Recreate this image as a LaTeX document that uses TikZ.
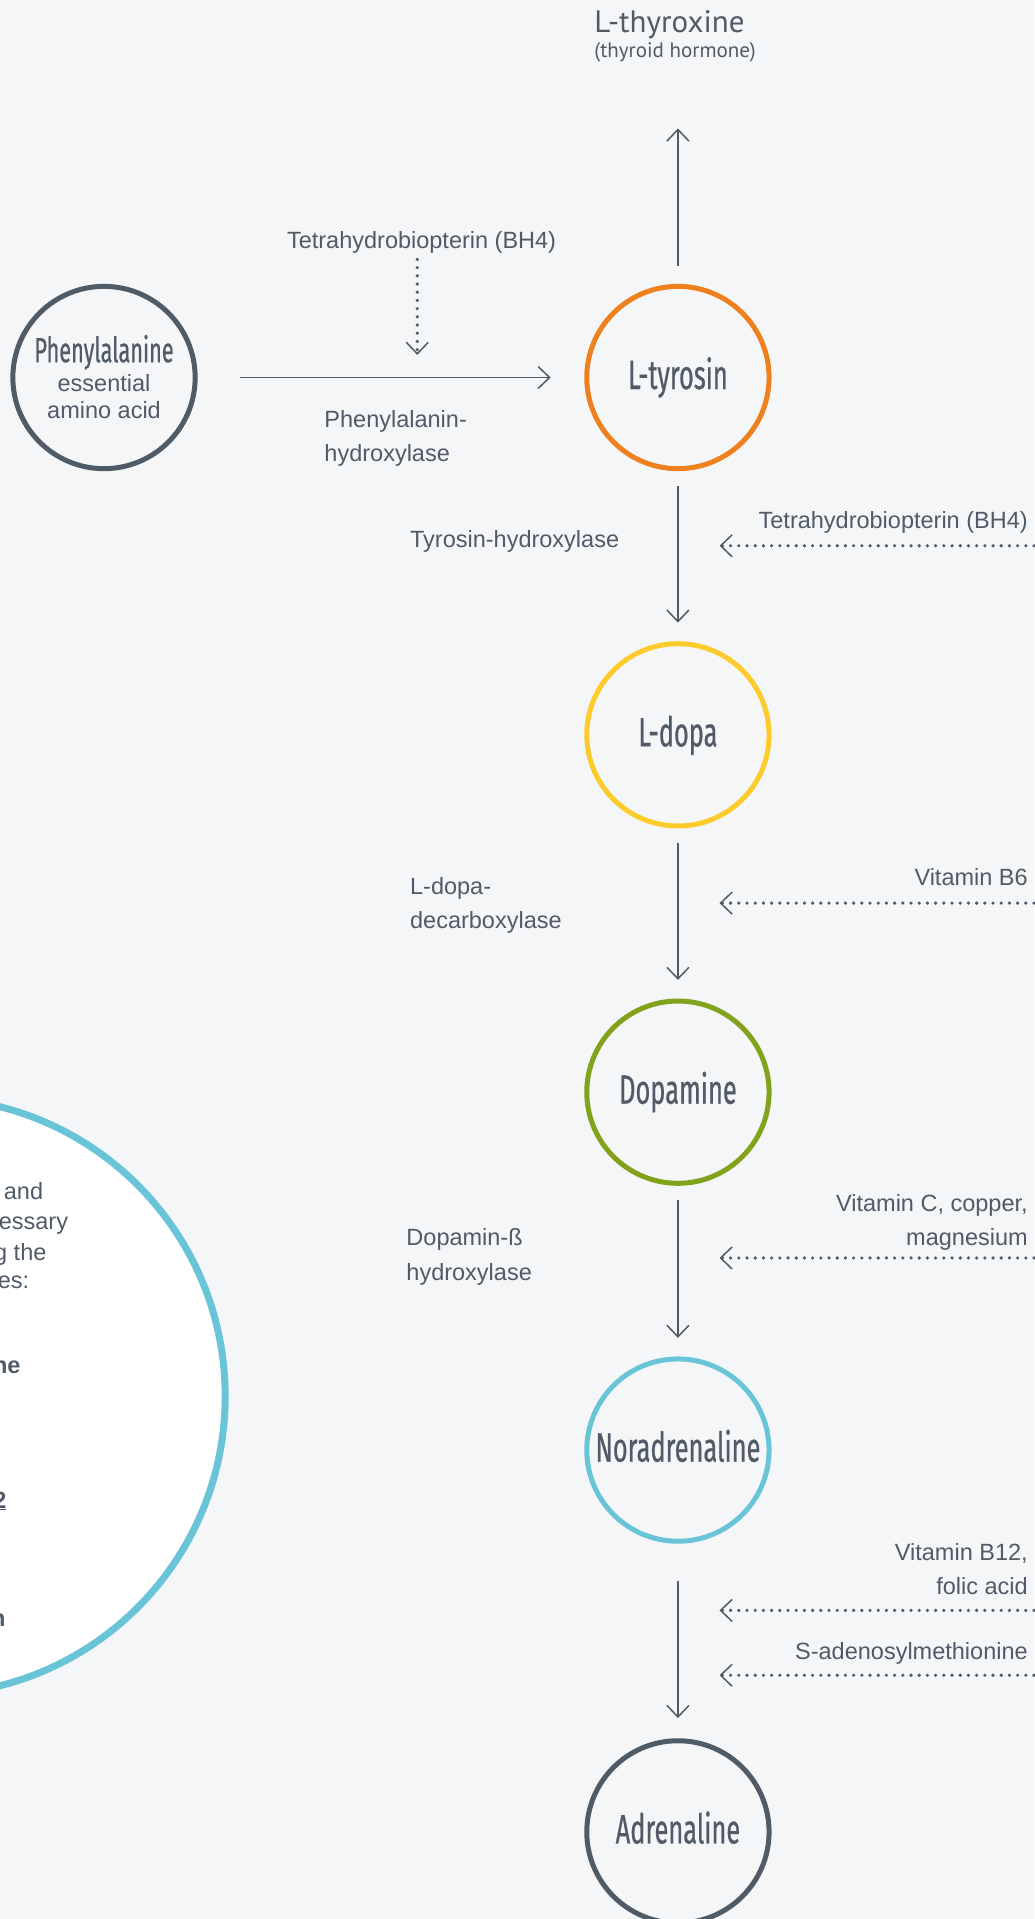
\documentclass[tikz,border=0pt]{standalone}
\usepackage{fontspec}
\setmainfont{Liberation Sans}
\newfontfamily\condfont[FakeStretch=0.62,FakeBold=0.5]{Fira Sans}
\newfontfamily\myriad{PT Sans}
\usetikzlibrary{arrows.meta}
\definecolor{bgc}{HTML}{F4F6F8}
\definecolor{ink}{HTML}{505B67}
\definecolor{corange}{HTML}{EE801E}
\definecolor{cyellow}{HTML}{FDCB2B}
\definecolor{cgreen}{HTML}{80A31B}
\definecolor{cblue}{HTML}{6AC4D8}
\definecolor{cslate}{HTML}{4F5B66}
\begin{document}
\begin{tikzpicture}[x=1.2237pt,y=-1.2237pt,
  mol/.style={circle, draw=#1, line width=5pt, minimum size=182.3pt, inner sep=0pt, outer sep=0pt,
    text=ink, font=\condfont\fontsize{41}{42}\selectfont, text height=28.5pt, text depth=5.4pt},
  lbl/.style={text=ink, inner sep=0pt, font=\fontsize{23.5}{34.3}\selectfont},
  arr/.style={draw=ink, line width=1.5pt, -{Straight Barb[length=11.5pt,width=22pt,line width=1.5pt]}},
  dotarr/.style={draw=ink, line width=3.6pt, line cap=round, dash pattern=on 0pt off 8.2pt,
    -{Straight Barb[length=11.5pt,width=22pt,line width=1.5pt]}},
]
\fill[bgc] (0,0) rectangle (845,1568.2);
\useasboundingbox (0,0) rectangle (845,1568.2);

% info circle (partly outside the page)
\node[circle, draw=cblue, fill=white, line width=7pt, minimum size=597.2pt, inner sep=0pt] (info) at (-60,1141) {};
\node[lbl, anchor=base east] (i1) at (35.4,980) {and};
\node[lbl, anchor=base east] (i2) at (55.8,1005) {essary};
\node[lbl, anchor=base east] (i3) at (38.1,1029.7) {g the};
\node[lbl, anchor=base east] (i4) at (24,1052.7) {es:};
\node[lbl, anchor=base east, font=\bfseries\fontsize{23.5}{30}\selectfont] (i5) at (16.9,1122) {ne};
\node[lbl, anchor=base east, font=\bfseries\fontsize{23.5}{30}\selectfont] (i6) at (5.4,1232.5) {\underline{2}};
\node[lbl, anchor=base east, font=\bfseries\fontsize{23.5}{30}\selectfont] (i7) at (4.6,1329) {n};

% molecules
\node[mol=cslate, text height=0pt, text depth=0pt] (phe) at (85,308.5) {};
\node[lbl, anchor=base, font=\condfont\fontsize{35}{36}\selectfont] (phet) at (85,296) {Phenylalanine};
\node[lbl, anchor=base] (phe2) at (85,320) {essential};
\node[lbl, anchor=base] (phe3) at (85,342) {amino acid};

\node[mol=corange] (tyr) at (554,308.5) {L-tyrosin};
\node[mol=cyellow] (dopa) at (554,600.5) {L-dopa};
\node[mol=cgreen] (dop) at (554,892.5) {Dopamine};
\node[mol=cblue] (nor) at (554,1185) {Noradrenaline};
\node[mol=cslate] (adr) at (554,1497) {Adrenaline};

% thyroxine
\node[lbl, anchor=base west, font=\myriad\fontsize{31}{33}\selectfont] (thy) at (485.6,26.4) {L-thyroxine};
\node[lbl, anchor=base west, font=\myriad\fontsize{21}{23}\selectfont] (thy2) at (485.6,47) {(thyroid hormone)};
\coordinate (thytip) at (554,105);
\draw[arr, shorten <=20.2pt] (tyr) -- (thytip);

% phenylalanine -> tyrosin
\draw[arr, shorten <=44.7pt, shorten >=36.1pt] (phe) -- (tyr);
\node[lbl, anchor=base] (bh4a) at (344.5,203) {Tetrahydrobiopterin (BH4)};
\coordinate (bh4as) at (341,212);
\coordinate (bh4ae) at (341,290);
\draw[dotarr] (bh4as) -- (bh4ae);
\node[lbl, anchor=base west, align=left] (pah) at (265,377) {Phenylalanin-\\hydroxylase};

% chain
\draw[arr, shorten <=17.15pt, shorten >=21.1pt] (tyr) -- (dopa);
\draw[arr, shorten <=17.15pt, shorten >=21.1pt] (dopa) -- (dop);
\draw[arr, shorten <=17.15pt, shorten >=21.1pt] (dop) -- (nor);
\draw[arr, shorten <=39.8pt, shorten >=22.7pt] (nor) -- (adr);

% enzymes
\node[lbl, anchor=base west] (th) at (335,447) {Tyrosin-hydroxylase};
\node[lbl, anchor=base west, align=left] (ddc) at (335,759) {L-dopa-\\decarboxylase};
\node[lbl, anchor=base west, align=left] (dbh) at (332,1046) {Dopamin-ß\\hydroxylase};

% cofactors
\node[lbl, anchor=base east] (bh4b) at (840,432) {Tetrahydrobiopterin (BH4)};
\coordinate (c1s) at (845,446); \coordinate (c1e) at (588,446);
\draw[dotarr] (c1s) -- (c1e);
\node[lbl, anchor=base east] (b6) at (840,724) {Vitamin B6};
\coordinate (c2s) at (845,738); \coordinate (c2e) at (588,738);
\draw[dotarr] (c2s) -- (c2e);
\node[lbl, anchor=base east, align=right] (vc) at (840,1018) {Vitamin C, copper,\\magnesium};
\coordinate (c3s) at (845,1028); \coordinate (c3e) at (588,1028);
\draw[dotarr] (c3s) -- (c3e);
\node[lbl, anchor=base east, align=right] (b12) at (840,1303) {Vitamin B12,\\folic acid};
\coordinate (c4s) at (845,1316); \coordinate (c4e) at (588,1316);
\draw[dotarr] (c4s) -- (c4e);
\node[lbl, anchor=base east] (sam) at (840,1356) {S-adenosylmethionine};
\coordinate (c5s) at (845,1369); \coordinate (c5e) at (588,1369);
\draw[dotarr] (c5s) -- (c5e);
\end{tikzpicture}
\end{document}
